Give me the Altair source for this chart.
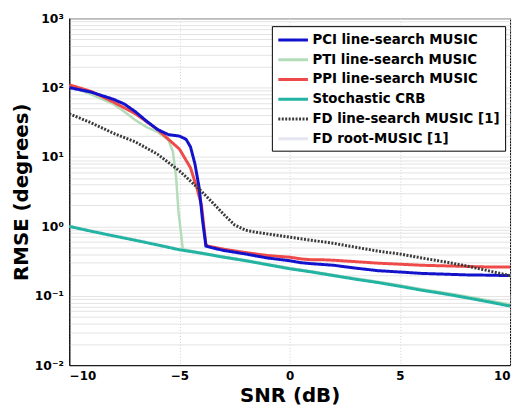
import altair as alt
import pandas as pd

series_names = [
    "PCI line-search MUSIC",
    "PTI line-search MUSIC",
    "PPI line-search MUSIC",
    "Stochastic CRB",
    "FD line-search MUSIC [1]",
    "FD root-MUSIC [1]",
]

# PCI line-search MUSIC (blue)
pci_snr = [-10, -9, -8, -7.5, -7, -6.5, -6, -5.5, -5, -4.7, -4.5, -4.3, -4.1, -3.95, -3.8, -3.5, -3, -2, -1, 0, 0.5, 1, 2, 3, 4, 5, 6, 7, 8, 9, 10]
pci_rmse = [100, 86, 68, 58, 45, 33, 25, 21, 20, 18, 14, 8, 3.5, 1.2, 0.52, 0.49, 0.45, 0.40, 0.35, 0.32, 0.30, 0.29, 0.275, 0.25, 0.23, 0.22, 0.21, 0.205, 0.20, 0.198, 0.195]

# PTI line-search MUSIC (light green)
pti_snr = [-10, -9, -8.65, -8, -7.5, -7, -6.5, -6, -5.5, -5.3, -5.15, -5.05, -4.85, -4, -3, -2, -1, 0, 1, 2, 3, 4, 5, 6, 7, 8, 9, 10]
pti_rmse = [105, 80, 71, 58, 45, 34, 27, 23, 17.5, 12, 5, 1.7, 0.47, 0.415, 0.365, 0.325, 0.285, 0.25, 0.224, 0.199, 0.177, 0.159, 0.141, 0.124, 0.111, 0.098, 0.086, 0.075]

# PPI line-search MUSIC (red)
ppi_snr = [-10, -9, -8, -7, -6, -5.5, -5, -4.5, -4.2, -4, -3.8, -3.7, -3, -2, -1, 0, 0.5, 1, 1.5, 2, 3, 4, 5, 6, 7, 8, 9, 10]
ppi_rmse = [110, 88, 62, 42, 25, 18, 13, 7, 3.5, 2, 0.55, 0.52, 0.47, 0.42, 0.38, 0.36, 0.34, 0.33, 0.33, 0.325, 0.31, 0.295, 0.285, 0.275, 0.27, 0.265, 0.26, 0.26]

# Stochastic CRB (teal)
crb_snr = [-10, -9, -8, -7, -6, -5, -4, -3, -2, -1, 0, 1, 2, 3, 4, 5, 6, 7, 8, 9, 10]
crb_rmse = [1.0, 0.85, 0.73, 0.63, 0.54, 0.46, 0.41, 0.36, 0.32, 0.28, 0.245, 0.22, 0.195, 0.173, 0.155, 0.137, 0.12, 0.107, 0.094, 0.082, 0.071]

# FD line-search MUSIC [1] (dotted)
fdl_snr = [-10, -9, -8, -7, -6, -5, -4.5, -4, -3.5, -3, -2.5, -2, -1.5, -1, 0, 1, 2, 3, 4, 5, 6, 7, 8, 9, 10]
fdl_rmse = [42, 31, 22, 16.5, 11, 6.3, 4.5, 3.2, 2.2, 1.5, 1.05, 0.88, 0.82, 0.78, 0.70, 0.63, 0.57, 0.50, 0.44, 0.40, 0.35, 0.31, 0.27, 0.23, 0.195]

# FD root-MUSIC [1] (very faint)
fdr_snr = [-10, -5, 0, 5, 10]
fdr_rmse = [1.0, 0.47, 0.25, 0.14, 0.072]

colors = ["#1212cc", "#b4dcb8", "#ef4a4a", "#22b3a3", "#3a3a3a", "#e6e6f2"]
dashes = [[1, 0], [1, 0], [1, 0], [1, 0], [2, 1.5], [1, 0]]

draw_order = [
    ("FD root-MUSIC [1]", fdr_snr, fdr_rmse),
    ("PTI line-search MUSIC", pti_snr, pti_rmse),
    ("Stochastic CRB", crb_snr, crb_rmse),
    ("PPI line-search MUSIC", ppi_snr, ppi_rmse),
    ("PCI line-search MUSIC", pci_snr, pci_rmse),
    ("FD line-search MUSIC [1]", fdl_snr, fdl_rmse),
]

rows = []
for k, (name, xs, ys) in enumerate(draw_order):
    for i, (x, y) in enumerate(zip(xs, ys)):
        rows.append({"series": name, "snr": x, "rmse": y, "idx": i})
df = pd.DataFrame(rows)

y_ticks = []
for e in range(-2, 3):
    for m in range(1, 10):
        y_ticks.append(m * 10.0 ** e if m > 1 else 10.0 ** e)
y_ticks.append(1000.0)

label_expr = (
    "datum.value == 1000 ? '10\u00b3' : datum.value == 100 ? '10\u00b2' : "
    "datum.value == 10 ? '10\u00b9' : datum.value == 1 ? '10\u2070' : "
    "datum.value == 0.1 ? '10\u207b\u00b9' : datum.value == 0.01 ? '10\u207b\u00b2' : ''"
)

FONT = "DejaVu Sans"


def legend_def():
    return alt.Legend(
        title=None,
        orient="none",
        legendX=205,
        legendY=8,
        symbolType="M-1,0H3",
        symbolSize=225,
        symbolStrokeWidth=3,
        labelFont=FONT,
        labelFontSize=13.5,
        labelFontWeight="bold",
        labelColor="#000",
        labelOffset=18,
        labelLimit=300,
        rowPadding=4,
        padding=5,
        strokeColor="#000",
        fillColor="#fff",
    )


layers = []
for name, xs, ys in draw_order:
    width = 2.5 if name == "PTI line-search MUSIC" else 3
    layer = (
        alt.Chart(df)
        .transform_filter(alt.datum.series == name)
        .mark_line(strokeWidth=width, clip=True)
        .encode(
            x=alt.X(
                "snr:Q",
                scale=alt.Scale(domain=[-10, 10], nice=False),
                axis=alt.Axis(
                    title="SNR (dB)",
                    values=[-10, -5, 0, 5, 10],
                    labelFontSize=12,
                    labelFontWeight="bold",
                    labelFont=FONT,
                    labelColor="#000",
                    labelPadding=6,
                    ticks=False,
                    titleFont=FONT,
                    titleFontSize=20,
                    titleFontWeight="bold",
                    titleColor="#000",
                    titleY=31,
                    titleBaseline="middle",
                    grid=True,
                    gridColor="#cfcfcf",
                    gridDash=[1, 2],
                    domainColor="#000",
                ),
            ),
            y=alt.Y(
                "rmse:Q",
                scale=alt.Scale(type="log", domain=[0.01, 1000], nice=False),
                axis=alt.Axis(
                    title="RMSE (degrees)",
                    values=y_ticks,
                    labelExpr=label_expr,
                    labelFontSize=12.5,
                    labelFontWeight="bold",
                    labelFont=FONT,
                    labelColor="#000",
                    labelPadding=6,
                    ticks=False,
                    titleFont=FONT,
                    titleFontSize=20,
                    titleFontWeight="bold",
                    titleColor="#000",
                    titleX=-48,
                    titleBaseline="middle",
                    grid=True,
                    gridColor="#e3e3e3",
                    domainColor="#000",
                ),
            ),
            color=alt.Color(
                "series:N",
                scale=alt.Scale(domain=series_names, range=colors),
                legend=legend_def(),
            ),
            strokeDash=alt.StrokeDash(
                "series:N",
                scale=alt.Scale(domain=series_names, range=dashes),
                legend=legend_def(),
            ),
            order="idx:Q",
        )
    )
    layers.append(layer)

chart = (
    alt.layer(*layers)
    .properties(
        width=446,
        height=351,
        autosize=alt.AutoSizeParams(type="none"),
        padding={"left": 62, "top": 8, "right": 5, "bottom": 41},
        background="#ffffff",
    )
    .configure_view(stroke="#000", strokeWidth=1)
)

chart.save("out.html", embed_options={"renderer": "svg", "actions": False})
